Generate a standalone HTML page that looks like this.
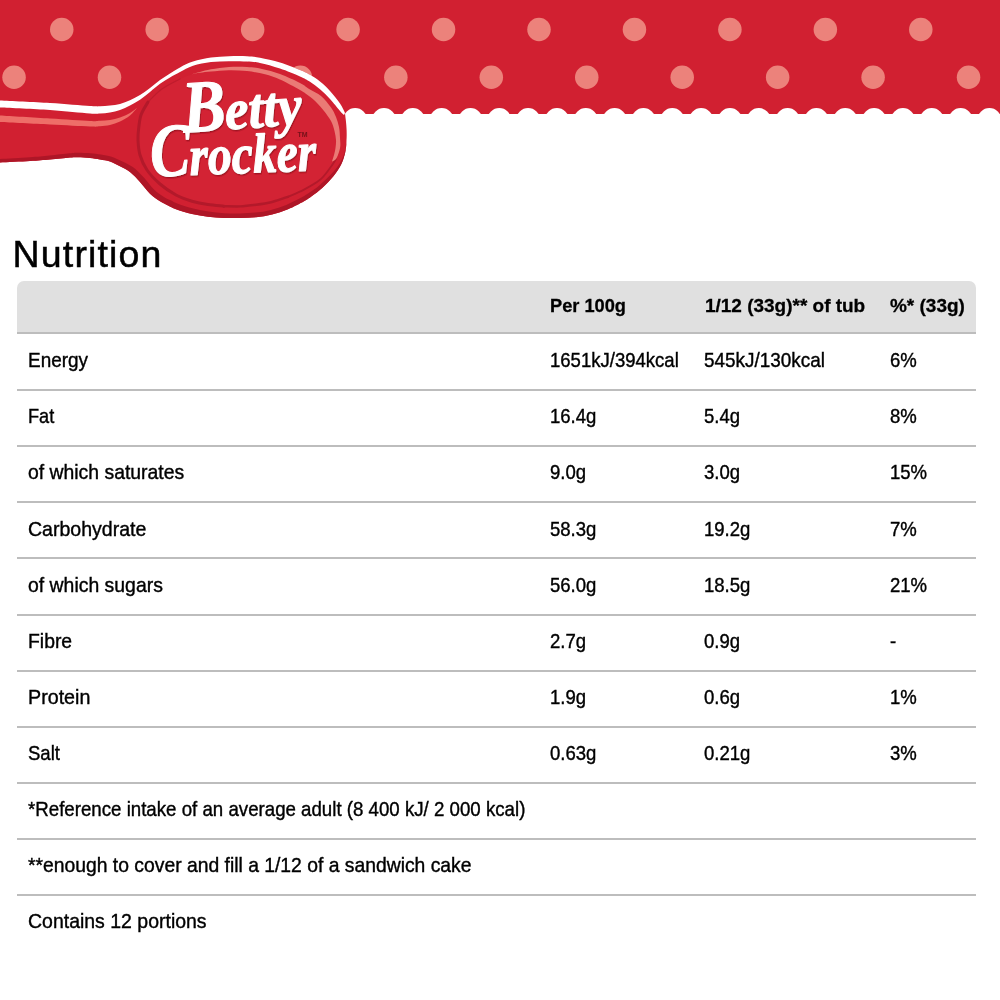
<!DOCTYPE html>
<html lang="en"><head><meta charset="utf-8"><title>Betty Crocker Nutrition</title>
<style>
html,body{margin:0;padding:0;background:#fff;}
body{width:1000px;height:1000px;position:relative;overflow:hidden;font-family:"Liberation Sans",sans-serif;color:#000;}
h1{position:absolute;left:12.6px;top:231.6px;margin:0;font-weight:normal;font-size:37.5px;line-height:44px;letter-spacing:1.15px;color:#000;-webkit-text-stroke:0.5px #000;white-space:nowrap;}
.hd{position:absolute;left:16.5px;top:281px;width:959.5px;height:52px;background:#e0e0e0;border-radius:7px 7px 0 0;}
.ln{position:absolute;left:16.5px;width:959.5px;height:2px;background:#bdbdbd;}
.r{position:absolute;left:0;width:1000px;height:56.1px;}
.c{position:absolute;top:0;-webkit-text-stroke:0.4px #000;line-height:56.1px;font-size:20.6px;white-space:nowrap;transform:scaleX(.9);transform-origin:0 50%;}
.h .c{-webkit-text-stroke:0.3px #000;line-height:51px;font-size:18.8px;transform:scaleX(1.01);}
.c1{left:27.6px}.c2{left:549.6px}.c3{left:704.4px}.c4{left:890px}
.h .c2{left:549.5px;transform:scaleX(.97)}.h .c3{left:705px}.h .c4{left:890px}
</style></head>
<body>
<svg width="1000" height="240" viewBox="0 0 1000 240" style="position:absolute;left:0;top:0">
<rect x="0" y="0" width="1000" height="114" fill="#d12031"/>
<circle cx="61.75" cy="29.5" r="11.75" fill="#ec827b"/>
<circle cx="14.05" cy="77.2" r="11.75" fill="#ec827b"/>
<circle cx="157.20" cy="29.5" r="11.75" fill="#ec827b"/>
<circle cx="109.50" cy="77.2" r="11.75" fill="#ec827b"/>
<circle cx="252.65" cy="29.5" r="11.75" fill="#ec827b"/>
<circle cx="204.95" cy="77.2" r="11.75" fill="#ec827b"/>
<circle cx="348.10" cy="29.5" r="11.75" fill="#ec827b"/>
<circle cx="300.40" cy="77.2" r="11.75" fill="#ec827b"/>
<circle cx="443.55" cy="29.5" r="11.75" fill="#ec827b"/>
<circle cx="395.85" cy="77.2" r="11.75" fill="#ec827b"/>
<circle cx="539.00" cy="29.5" r="11.75" fill="#ec827b"/>
<circle cx="491.30" cy="77.2" r="11.75" fill="#ec827b"/>
<circle cx="634.45" cy="29.5" r="11.75" fill="#ec827b"/>
<circle cx="586.75" cy="77.2" r="11.75" fill="#ec827b"/>
<circle cx="729.90" cy="29.5" r="11.75" fill="#ec827b"/>
<circle cx="682.20" cy="77.2" r="11.75" fill="#ec827b"/>
<circle cx="825.35" cy="29.5" r="11.75" fill="#ec827b"/>
<circle cx="777.65" cy="77.2" r="11.75" fill="#ec827b"/>
<circle cx="920.80" cy="29.5" r="11.75" fill="#ec827b"/>
<circle cx="873.10" cy="77.2" r="11.75" fill="#ec827b"/>
<circle cx="1016.25" cy="29.5" r="11.75" fill="#ec827b"/>
<circle cx="968.55" cy="77.2" r="11.75" fill="#ec827b"/>
<circle cx="355.17" cy="119.75" r="11.75" fill="#fff"/>
<circle cx="384.00" cy="119.75" r="11.75" fill="#fff"/>
<circle cx="412.83" cy="119.75" r="11.75" fill="#fff"/>
<circle cx="441.66" cy="119.75" r="11.75" fill="#fff"/>
<circle cx="470.49" cy="119.75" r="11.75" fill="#fff"/>
<circle cx="499.32" cy="119.75" r="11.75" fill="#fff"/>
<circle cx="528.15" cy="119.75" r="11.75" fill="#fff"/>
<circle cx="556.98" cy="119.75" r="11.75" fill="#fff"/>
<circle cx="585.81" cy="119.75" r="11.75" fill="#fff"/>
<circle cx="614.64" cy="119.75" r="11.75" fill="#fff"/>
<circle cx="643.47" cy="119.75" r="11.75" fill="#fff"/>
<circle cx="672.30" cy="119.75" r="11.75" fill="#fff"/>
<circle cx="701.13" cy="119.75" r="11.75" fill="#fff"/>
<circle cx="729.96" cy="119.75" r="11.75" fill="#fff"/>
<circle cx="758.79" cy="119.75" r="11.75" fill="#fff"/>
<circle cx="787.62" cy="119.75" r="11.75" fill="#fff"/>
<circle cx="816.45" cy="119.75" r="11.75" fill="#fff"/>
<circle cx="845.28" cy="119.75" r="11.75" fill="#fff"/>
<circle cx="874.11" cy="119.75" r="11.75" fill="#fff"/>
<circle cx="902.94" cy="119.75" r="11.75" fill="#fff"/>
<circle cx="931.77" cy="119.75" r="11.75" fill="#fff"/>
<circle cx="960.60" cy="119.75" r="11.75" fill="#fff"/>
<circle cx="989.43" cy="119.75" r="11.75" fill="#fff"/>
<circle cx="1018.26" cy="119.75" r="11.75" fill="#fff"/>
<path d="M-5.0 100.2C-4.2 100.2 -9.2 100.0 0.0 100.5C9.2 101.0 35.0 102.1 50.0 103.0C65.0 103.9 81.7 105.5 90.0 106.0C98.3 106.5 96.7 106.4 100.0 106.3C103.3 106.2 106.7 105.9 110.0 105.5C113.3 105.1 116.7 104.9 120.0 104.0C123.3 103.1 126.7 101.8 130.0 100.3C133.3 98.8 136.7 97.0 140.0 95.0C143.3 93.0 146.7 90.5 150.0 88.0C153.3 85.5 156.7 82.4 160.0 80.0C163.3 77.6 166.7 75.6 170.0 73.5C173.3 71.4 176.2 69.5 180.0 67.5C183.8 65.5 187.8 63.2 193.0 61.6C198.2 60.0 205.0 58.5 211.0 57.6C217.0 56.7 223.0 56.4 229.0 56.2C235.0 56.0 241.8 56.0 247.0 56.2C252.2 56.5 254.5 56.7 260.0 57.7C265.5 58.8 273.3 60.5 280.0 62.5C286.7 64.5 295.0 68.0 300.0 70.0C305.0 72.0 306.7 72.9 310.0 74.8C313.3 76.7 316.7 78.8 320.0 81.5C323.3 84.2 326.7 87.3 330.0 91.0C333.3 94.7 337.5 99.8 340.0 103.5C342.5 107.2 344.2 111.4 345.0 113.0C345.1 114.2 345.5 117.2 345.8 120.0C346.1 122.8 346.5 126.7 346.6 130.0C346.7 133.3 346.7 136.3 346.5 140.0C346.3 143.7 346.2 148.0 345.3 152.0C344.4 156.0 343.3 160.0 341.4 164.0C339.4 168.0 336.8 172.0 333.6 176.0C330.4 180.0 325.8 184.7 322.2 188.0C318.6 191.3 315.0 193.8 312.0 196.0C309.0 198.2 308.0 199.0 304.0 201.2C300.0 203.4 293.3 207.0 288.0 209.2C282.7 211.4 277.3 213.1 272.0 214.4C266.7 215.7 261.3 216.6 256.0 217.2C250.7 217.8 245.3 217.9 240.0 218.0C234.7 218.1 229.3 218.2 224.0 218.0C218.7 217.8 213.3 217.5 208.0 216.8C202.7 216.1 197.3 215.3 192.0 214.0C186.7 212.7 180.0 210.6 176.0 209.2C172.0 207.8 170.7 206.8 168.0 205.5C165.3 204.2 163.0 203.2 160.0 201.3C157.0 199.4 153.3 197.0 150.0 193.8C146.7 190.6 143.3 185.6 140.0 182.0C136.7 178.4 133.3 174.6 130.0 172.0C126.7 169.4 123.3 168.1 120.0 166.3C116.7 164.6 113.3 162.6 110.0 161.5C106.7 160.4 103.3 160.1 100.0 159.5C96.7 158.9 93.7 158.4 90.0 158.0C86.3 157.6 81.3 157.3 78.0 157.2C74.7 157.1 74.7 157.1 70.0 157.5C65.3 157.9 56.7 158.9 50.0 159.5C43.3 160.1 38.3 160.5 30.0 161.0C21.7 161.5 5.8 162.2 0.0 162.5C-5.8 162.8 -4.2 162.7 -5.0 162.7Z" fill="#d12031"/>
<path d="M345.0 113.0C345.1 114.2 345.5 117.2 345.8 120.0C346.1 122.8 346.5 126.7 346.6 130.0C346.7 133.3 346.7 136.3 346.5 140.0C346.3 143.7 346.2 148.0 345.3 152.0C344.4 156.0 343.3 160.0 341.4 164.0C339.4 168.0 336.8 172.0 333.6 176.0C330.4 180.0 325.8 184.7 322.2 188.0C318.6 191.3 315.0 193.8 312.0 196.0C309.0 198.2 308.0 199.0 304.0 201.2C300.0 203.4 293.3 207.0 288.0 209.2C282.7 211.4 277.3 213.1 272.0 214.4C266.7 215.7 261.3 216.6 256.0 217.2C250.7 217.8 245.3 217.9 240.0 218.0C234.7 218.1 229.3 218.2 224.0 218.0C218.7 217.8 213.3 217.5 208.0 216.8C202.7 216.1 197.3 215.3 192.0 214.0C186.7 212.7 180.0 210.6 176.0 209.2C172.0 207.8 170.7 206.8 168.0 205.5C165.3 204.2 163.0 203.2 160.0 201.3C157.0 199.4 153.3 197.0 150.0 193.8C146.7 190.6 143.3 185.6 140.0 182.0C136.7 178.4 133.3 174.6 130.0 172.0C126.7 169.4 123.3 168.1 120.0 166.3C116.7 164.6 113.3 162.6 110.0 161.5C106.7 160.4 103.3 160.1 100.0 159.5C96.7 158.9 93.7 158.4 90.0 158.0C86.3 157.6 81.3 157.3 78.0 157.2C74.7 157.1 74.7 157.1 70.0 157.5C65.3 157.9 56.7 158.9 50.0 159.5C43.3 160.1 38.3 160.5 30.0 161.0C21.7 161.5 5.8 162.2 0.0 162.5C-5.8 162.8 -4.2 162.7 -5.0 162.7L-5.1 159.2C-4.3 159.2 -6.0 159.3 -0.2 159.0C5.6 158.7 21.5 157.9 29.8 157.3C38.1 156.7 43.0 156.2 49.7 155.5C56.3 154.8 64.9 153.8 69.7 153.3C74.4 152.8 74.6 152.7 78.1 152.7C81.6 152.7 86.7 152.9 90.5 153.2C94.3 153.5 97.3 154.0 100.9 154.6C104.4 155.2 108.0 155.6 111.6 156.8C115.2 157.9 118.8 159.8 122.5 161.6C126.1 163.4 129.8 164.8 133.5 167.6C137.1 170.3 140.8 174.4 144.3 178.1C147.7 181.8 150.9 186.6 154.0 189.6C157.2 192.7 160.4 194.7 163.2 196.4C165.9 198.2 168.1 199.1 170.6 200.3C173.0 201.5 174.1 202.4 177.9 203.7C181.7 205.1 188.2 207.2 193.3 208.6C198.4 209.9 203.5 210.9 208.6 211.6C213.8 212.4 219.0 212.9 224.2 213.2C229.4 213.5 234.7 213.5 239.9 213.4C245.1 213.3 250.3 213.2 255.5 212.6C260.7 212.1 265.8 211.2 270.9 209.9C276.0 208.7 281.1 207.0 286.2 204.9C291.4 202.8 298.0 199.4 301.9 197.3C305.8 195.3 306.6 194.6 309.5 192.6C312.5 190.6 316.0 188.3 319.6 185.2C323.2 182.1 327.9 177.8 331.3 174.1C334.6 170.5 337.5 166.9 339.8 163.2C342.0 159.5 343.6 155.7 344.7 151.9C345.8 148.0 346.2 143.6 346.5 140.0C346.8 136.4 346.7 133.3 346.6 130.0C346.5 126.7 346.1 122.8 345.8 120.0C345.5 117.2 345.1 114.2 345.0 113.0Z" fill="#ae1627"/>
<path d="M-5.0 100.2C-4.2 100.2 -9.2 100.0 0.0 100.5C9.2 101.0 35.0 102.1 50.0 103.0C65.0 103.9 81.7 105.5 90.0 106.0C98.3 106.5 96.7 106.4 100.0 106.3C103.3 106.2 106.7 105.9 110.0 105.5C113.3 105.1 116.7 104.9 120.0 104.0C123.3 103.1 126.7 101.8 130.0 100.3C133.3 98.8 136.7 97.0 140.0 95.0C143.3 93.0 146.7 90.5 150.0 88.0C153.3 85.5 156.7 82.4 160.0 80.0C163.3 77.6 166.7 75.6 170.0 73.5C173.3 71.4 176.2 69.5 180.0 67.5C183.8 65.5 187.8 63.2 193.0 61.6C198.2 60.0 205.0 58.5 211.0 57.6C217.0 56.7 223.0 56.4 229.0 56.2C235.0 56.0 241.8 56.0 247.0 56.2C252.2 56.5 254.5 56.7 260.0 57.7C265.5 58.8 273.3 60.5 280.0 62.5C286.7 64.5 295.0 68.0 300.0 70.0C305.0 72.0 306.7 72.9 310.0 74.8C313.3 76.7 316.7 78.8 320.0 81.5C323.3 84.2 326.7 87.3 330.0 91.0C333.3 94.7 337.5 99.8 340.0 103.5C342.5 107.2 344.2 111.4 345.0 113.0L344.0 115.0C343.3 114.3 342.3 113.7 340.0 111.0C337.7 108.3 333.3 102.6 330.0 99.0C326.7 95.4 323.3 92.2 320.0 89.3C316.7 86.4 313.3 83.8 310.0 81.7C306.7 79.6 305.0 78.6 300.0 76.4C295.0 74.2 286.7 70.7 280.0 68.5C273.3 66.3 265.5 64.2 260.0 63.0C254.5 61.9 252.2 61.9 247.0 61.6C241.8 61.3 235.0 61.1 229.0 61.2C223.0 61.3 217.0 61.4 211.0 62.1C205.0 62.9 198.2 64.0 193.0 65.7C187.8 67.4 183.8 70.0 180.0 72.0C176.2 74.0 173.3 75.5 170.0 77.5C166.7 79.5 163.3 81.4 160.0 83.8C156.7 86.2 153.3 89.3 150.0 92.0C146.7 94.7 143.3 97.5 140.0 99.8C136.7 102.0 133.3 103.8 130.0 105.5C126.7 107.2 123.3 108.8 120.0 110.0C116.7 111.2 113.3 111.9 110.0 112.5C106.7 113.1 103.3 113.3 100.0 113.5C96.7 113.7 98.3 114.1 90.0 113.5C81.7 112.9 65.0 111.0 50.0 110.0C35.0 109.0 9.2 108.0 0.0 107.5C-9.2 107.0 -4.2 107.2 -5.0 107.2Z" fill="#fff"/>
<path d="M-5.0 115.2C-4.2 115.2 -9.2 115.0 0.0 115.5C9.2 116.0 35.0 117.6 50.0 118.5C65.0 119.4 81.7 120.6 90.0 121.0C98.3 121.4 96.7 121.0 100.0 120.8C103.3 120.6 106.7 120.5 110.0 120.0C113.3 119.5 116.7 118.7 120.0 117.5C123.3 116.3 127.1 114.7 130.0 113.0C132.9 111.3 136.2 108.4 137.5 107.5C136.2 108.8 132.9 113.2 130.0 115.5C127.1 117.8 123.3 119.9 120.0 121.5C116.7 123.1 113.3 124.2 110.0 125.0C106.7 125.8 103.3 126.0 100.0 126.3C96.7 126.5 98.3 126.8 90.0 126.5C81.7 126.2 65.0 125.2 50.0 124.5C35.0 123.8 9.2 122.5 0.0 122.0C-9.2 121.5 -4.2 121.8 -5.0 121.8Z" fill="#ee6e68"/>
<path d="M148.0 102.0C144.5 106.3 142.6 110.3 141.0 115.0C139.4 119.7 139.0 125.8 138.5 130.0C138.0 134.2 137.8 135.8 138.0 140.0C138.2 144.2 138.5 150.0 140.0 155.0C141.5 160.0 143.7 165.2 147.0 170.0C150.3 174.8 155.2 179.8 160.0 184.0C164.8 188.2 170.7 192.1 176.0 195.0C181.3 197.9 186.7 199.6 192.0 201.2C197.3 202.8 202.7 203.8 208.0 204.6C213.3 205.4 218.7 205.9 224.0 206.2C229.3 206.5 234.7 206.6 240.0 206.4C245.3 206.2 250.7 205.5 256.0 204.8C261.3 204.1 266.7 203.3 272.0 202.0C277.3 200.7 282.7 198.9 288.0 196.8C293.3 194.7 298.7 192.4 304.0 189.6C309.3 186.8 315.7 183.4 320.0 179.8C324.3 176.2 327.3 171.5 330.0 168.0C332.7 164.5 334.5 161.7 336.0 159.0C337.5 156.3 338.3 154.2 339.0 152.0C339.7 149.8 340.1 148.3 340.3 146.0C340.5 143.7 340.2 141.2 340.0 138.0C339.8 134.8 339.7 130.5 339.0 127.0C338.3 123.5 337.3 120.2 336.0 117.0C334.7 113.8 333.5 111.0 331.0 107.5C328.5 104.0 324.5 99.0 321.0 96.0C317.5 93.0 313.5 91.7 310.0 89.5C306.5 87.3 305.0 85.6 300.0 83.0C295.0 80.4 286.3 76.3 280.0 74.0C273.7 71.7 267.5 70.2 262.0 69.0C256.5 67.8 252.5 67.3 247.0 67.0C241.5 66.7 235.0 66.6 229.0 67.0C223.0 67.4 215.8 68.5 211.0 69.3C206.2 70.1 203.2 71.2 200.0 72.0C196.8 72.8 195.3 73.0 192.0 74.2C188.7 75.4 185.0 76.5 180.0 79.0C175.0 81.5 167.3 85.2 162.0 89.0C156.7 92.8 151.5 97.7 148.0 102.0Z" fill="#d32334"/>
<path d="M148.0 102.0C146.8 104.2 142.6 110.3 141.0 115.0C139.4 119.7 139.0 125.8 138.5 130.0C138.0 134.2 137.8 135.8 138.0 140.0C138.2 144.2 138.5 150.0 140.0 155.0C141.5 160.0 143.7 165.2 147.0 170.0C150.3 174.8 155.2 179.8 160.0 184.0C164.8 188.2 170.7 192.1 176.0 195.0C181.3 197.9 186.7 199.6 192.0 201.2C197.3 202.8 202.7 203.8 208.0 204.6C213.3 205.4 221.3 205.9 224.0 206.2" fill="none" stroke="#b3192a" stroke-width="3" stroke-linecap="round"/>
<path d="M224.0 206.2C226.7 206.2 234.7 206.6 240.0 206.4C245.3 206.2 250.7 205.5 256.0 204.8C261.3 204.1 266.7 203.3 272.0 202.0C277.3 200.7 285.3 197.7 288.0 196.8" fill="none" stroke="#b3192a" stroke-width="2.4" stroke-linecap="round"/>
<path d="M288.0 196.8C290.7 195.6 298.7 192.4 304.0 189.6C309.3 186.8 315.7 183.4 320.0 179.8C324.3 176.2 327.3 171.5 330.0 168.0C332.7 164.5 335.0 160.5 336.0 159.0" fill="none" stroke="#b3192a" stroke-width="1.8" stroke-linecap="round"/>
<path d="M180.0 79.0C177.0 80.7 167.3 85.2 162.0 89.0C156.7 92.8 150.3 99.8 148.0 102.0" fill="none" stroke="#b3192a" stroke-width="1.2" stroke-linecap="round" opacity=".6"/>
<path d="M192.0 74.2C193.3 73.8 196.8 72.8 200.0 72.0C203.2 71.2 206.2 70.1 211.0 69.3C215.8 68.5 223.0 67.4 229.0 67.0C235.0 66.6 241.5 66.7 247.0 67.0C252.5 67.3 256.5 67.8 262.0 69.0C267.5 70.2 273.7 71.7 280.0 74.0C286.3 76.3 295.0 80.4 300.0 83.0C305.0 85.6 306.5 87.3 310.0 89.5C313.5 91.7 317.5 93.0 321.0 96.0C324.5 99.0 328.5 104.0 331.0 107.5C333.5 111.0 334.7 113.8 336.0 117.0C337.3 120.2 338.3 123.5 339.0 127.0C339.7 130.5 339.8 134.8 340.0 138.0C340.2 141.2 340.5 143.7 340.3 146.0C340.1 148.3 339.7 149.8 339.0 152.0C338.3 154.2 337.2 157.4 336.0 159.0C334.8 160.6 332.7 161.1 332.0 161.5C332.3 160.4 333.4 157.2 334.0 155.0C334.6 152.8 335.2 150.5 335.5 148.0C335.8 145.5 336.2 142.8 336.0 140.0C335.8 137.2 335.3 134.2 334.5 131.0C333.7 127.8 332.8 124.3 331.0 121.0C329.2 117.7 326.3 114.0 324.0 111.0C321.7 108.0 319.3 105.4 317.0 103.0C314.7 100.6 312.8 99.0 310.0 96.8C307.2 94.6 305.0 92.9 300.0 90.0C295.0 87.1 285.8 82.1 280.0 79.5C274.2 76.9 270.5 75.7 265.0 74.3C259.5 72.9 253.0 71.8 247.0 71.1C241.0 70.4 235.0 70.1 229.0 70.2C223.0 70.3 215.8 71.1 211.0 71.5C206.2 71.9 203.2 72.3 200.0 72.8C196.8 73.2 193.3 74.0 192.0 74.2Z" fill="#ea7a75"/>
<filter id="ts" x="-10%" y="-10%" width="120%" height="130%"><feDropShadow dx="0.8" dy="1.4" stdDeviation="0.5" flood-color="#8e0f1e" flood-opacity=".75"/></filter>
<g font-family="'Liberation Serif', serif" font-weight="bold" font-style="italic" fill="#fff" stroke="#fff" stroke-width="1.1" stroke-linejoin="round" filter="url(#ts)"><text x="184" y="131" transform="rotate(-4 205 131)"><tspan font-size="74" textLength="43" lengthAdjust="spacingAndGlyphs">B</tspan><tspan font-size="57" dx="-1" textLength="77" lengthAdjust="spacingAndGlyphs">etty</tspan></text><text x="151" y="176" transform="rotate(-2.2 165 176)"><tspan font-size="76" textLength="40" lengthAdjust="spacingAndGlyphs">C</tspan><tspan font-size="56" dx="-1" textLength="127" lengthAdjust="spacingAndGlyphs">rocker</tspan></text></g>
<text x="297.5" y="137" font-family="'Liberation Sans', sans-serif" font-weight="bold" font-size="7" fill="#741119">TM</text>
</svg>
<h1>Nutrition</h1>
<div class="hd"></div>
<div class="r h" style="top:279.6px"><span class="c c2"><b>Per 100g</b></span><span class="c c3"><b>1/12 (33g)** of tub</b></span><span class="c c4"><b>%* (33g)</b></span></div>
<div class="ln" style="top:332px"></div>
<div class="r" style="top:331.50px"><span class="c c1" style="transform:scaleX(0.92)">Energy</span><span class="c c2">1651kJ/394kcal</span><span class="c c3" style="transform:scaleX(.919)">545kJ/130kcal</span><span class="c c4">6%</span></div>
<div class="ln" style="top:389px"></div>
<div class="r" style="top:388.30px"><span class="c c1" style="transform:scaleX(0.882)">Fat</span><span class="c c2">16.4g</span><span class="c c3">5.4g</span><span class="c c4">8%</span></div>
<div class="ln" style="top:445px"></div>
<div class="r" style="top:444.40px"><span class="c c1" style="transform:scaleX(0.941)">of which saturates</span><span class="c c2">9.0g</span><span class="c c3">3.0g</span><span class="c c4">15%</span></div>
<div class="ln" style="top:501px"></div>
<div class="r" style="top:500.50px"><span class="c c1" style="transform:scaleX(0.949)">Carbohydrate</span><span class="c c2">58.3g</span><span class="c c3">19.2g</span><span class="c c4">7%</span></div>
<div class="ln" style="top:557px"></div>
<div class="r" style="top:556.60px"><span class="c c1" style="transform:scaleX(0.9425)">of which sugars</span><span class="c c2">56.0g</span><span class="c c3">18.5g</span><span class="c c4">21%</span></div>
<div class="ln" style="top:614px"></div>
<div class="r" style="top:612.70px"><span class="c c1" style="transform:scaleX(0.94)">Fibre</span><span class="c c2">2.7g</span><span class="c c3">0.9g</span><span class="c c4">-</span></div>
<div class="ln" style="top:670px"></div>
<div class="r" style="top:668.80px"><span class="c c1" style="transform:scaleX(0.956)">Protein</span><span class="c c2">1.9g</span><span class="c c3">0.6g</span><span class="c c4">1%</span></div>
<div class="ln" style="top:726px"></div>
<div class="r" style="top:724.90px"><span class="c c1" style="transform:scaleX(0.9)">Salt</span><span class="c c2">0.63g</span><span class="c c3">0.21g</span><span class="c c4">3%</span></div>
<div class="ln" style="top:782px"></div>
<div class="r" style="top:781.00px"><span class="c c1" style="transform:scaleX(0.907)">*Reference intake of an average adult (8 400 kJ/ 2 000 kcal)</span></div>
<div class="ln" style="top:838px"></div>
<div class="r" style="top:837.10px"><span class="c c1" style="transform:scaleX(0.938)">**enough to cover and fill a 1/12 of a sandwich cake</span></div>
<div class="ln" style="top:894px"></div>
<div class="r" style="top:893.20px"><span class="c c1" style="transform:scaleX(0.9455)">Contains 12 portions</span></div>
</body></html>
